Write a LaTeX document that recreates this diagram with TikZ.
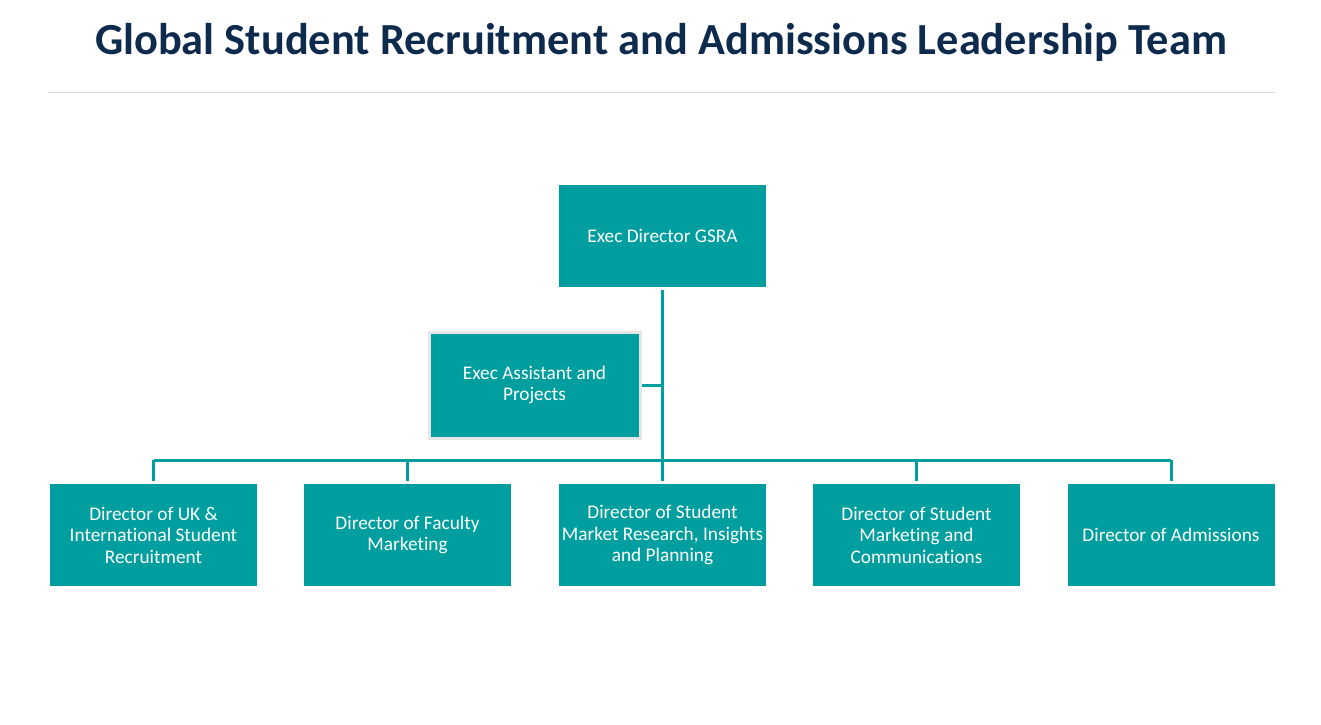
\documentclass[tikz,border=0pt]{standalone}
\usepackage{fontspec}
\setmainfont{Carlito}[Ligatures=NoCommon]
\usetikzlibrary{backgrounds}
\definecolor{teal}{HTML}{009E9E}
\definecolor{navy}{HTML}{0E2B4E}
\definecolor{rulegray}{HTML}{D9D9D9}
\definecolor{framegray}{HTML}{E6E6E6}

\begin{document}
\begin{tikzpicture}[x=1pt, y=-1pt,
  box/.style={fill=teal, draw=white, line width=3pt, minimum width=210pt, minimum height=105pt,
    text=white, align=center, font=\fontsize{19.3}{21.5}\selectfont, inner sep=2pt},
  link/.style={draw=teal, line width=3pt}]
\useasboundingbox (0,0) rectangle (1321,724);

% 标题
\node[text=navy, font=\fontsize{44.4}{50}\selectfont\bfseries] (title) at (661,42) {Global Student Recruitment and Admissions Leadership Team};
\draw[rulegray, line width=1pt] (48,92) -- (1275,92);

% 各个职位
\node[box] (exec) at (662.5,236) {Exec Director GSRA};
\node[box, draw=framegray, minimum width=211pt, minimum height=106pt] (assist) at (534.5,385) {Exec Assistant and\\Projects};
\node[box] (uk) at (153.5,535) {Director of UK \&\\International Student\\Recruitment};
\node[box] (faculty) at (407.5,535) {Director of Faculty\\Marketing};
\node[box] (research) at (662.5,535) {Director of Student\\Market Research, Insights\\and Planning};
\node[box] (comms) at (916.5,535) {Director of Student\\Marketing and\\Communications};
\node[box] (admit) at (1171,535) {Director of Admissions};

% 连线
\coordinate (bus) at (662.5,460);
\begin{scope}[on background layer]
\draw[link] (exec) -- (bus);
\draw[link] (assist.east) -- (assist.east -| exec);
\draw[link] (bus -| uk) -- (bus -| admit);
\foreach \n in {uk, faculty, research, comms, admit}
  \draw[link] (bus -| \n) -- (\n);
\end{scope}
\end{tikzpicture}
\end{document}
